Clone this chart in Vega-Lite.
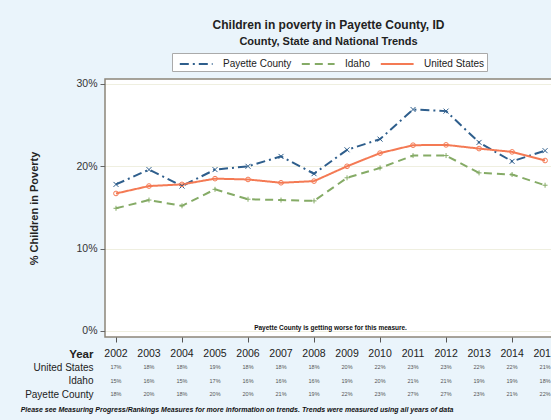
{
  "$schema": "https://vega.github.io/schema/vega-lite/v6.json",
  "background": "#eaf4fb",
  "padding": {"left": 20, "top": 18, "right": 0, "bottom": 8},
  "config": {
    "font": "Liberation Sans",
    "view": {"stroke": "#8c8579", "strokeWidth": 1.5},
    "concat": {"spacing": 0}
  },
  "title": {
    "text": "Please see Measuring Progress/Rankings Measures for more information on trends. Trends were measured using all years of data",
    "orient": "bottom",
    "anchor": "start",
    "fontSize": 7,
    "fontStyle": "italic",
    "fontWeight": "bold",
    "color": "#111",
    "offset": 4,
    "dx": -4
  },
  "datasets": {
    "d": [
      {"year": 2002, "series": "Payette County", "value": 0.178},
      {"year": 2003, "series": "Payette County", "value": 0.196},
      {"year": 2004, "series": "Payette County", "value": 0.176},
      {"year": 2005, "series": "Payette County", "value": 0.196},
      {"year": 2006, "series": "Payette County", "value": 0.200},
      {"year": 2007, "series": "Payette County", "value": 0.212},
      {"year": 2008, "series": "Payette County", "value": 0.191},
      {"year": 2009, "series": "Payette County", "value": 0.220},
      {"year": 2010, "series": "Payette County", "value": 0.233},
      {"year": 2011, "series": "Payette County", "value": 0.269},
      {"year": 2012, "series": "Payette County", "value": 0.267},
      {"year": 2013, "series": "Payette County", "value": 0.229},
      {"year": 2014, "series": "Payette County", "value": 0.206},
      {"year": 2015, "series": "Payette County", "value": 0.219},
      {"year": 2002, "series": "Idaho", "value": 0.149},
      {"year": 2003, "series": "Idaho", "value": 0.159},
      {"year": 2004, "series": "Idaho", "value": 0.152},
      {"year": 2005, "series": "Idaho", "value": 0.172},
      {"year": 2006, "series": "Idaho", "value": 0.160},
      {"year": 2007, "series": "Idaho", "value": 0.159},
      {"year": 2008, "series": "Idaho", "value": 0.158},
      {"year": 2009, "series": "Idaho", "value": 0.186},
      {"year": 2010, "series": "Idaho", "value": 0.198},
      {"year": 2011, "series": "Idaho", "value": 0.213},
      {"year": 2012, "series": "Idaho", "value": 0.213},
      {"year": 2013, "series": "Idaho", "value": 0.192},
      {"year": 2014, "series": "Idaho", "value": 0.190},
      {"year": 2015, "series": "Idaho", "value": 0.177},
      {"year": 2002, "series": "United States", "value": 0.167},
      {"year": 2003, "series": "United States", "value": 0.176},
      {"year": 2004, "series": "United States", "value": 0.178},
      {"year": 2005, "series": "United States", "value": 0.185},
      {"year": 2006, "series": "United States", "value": 0.184},
      {"year": 2007, "series": "United States", "value": 0.180},
      {"year": 2008, "series": "United States", "value": 0.182},
      {"year": 2009, "series": "United States", "value": 0.200},
      {"year": 2010, "series": "United States", "value": 0.216},
      {"year": 2011, "series": "United States", "value": 0.2256},
      {"year": 2012, "series": "United States", "value": 0.226},
      {"year": 2013, "series": "United States", "value": 0.2215},
      {"year": 2014, "series": "United States", "value": 0.2175},
      {"year": 2015, "series": "United States", "value": 0.207}
    ]
  },
  "vconcat": [
    {
      "width": 447,
      "height": 258,
      "view": {"fill": "white"},
      "title": {
        "text": "Children in poverty in Payette County, ID",
        "subtitle": "County, State and National Trends",
        "fontSize": 12,
        "fontWeight": "bold",
        "color": "#222",
        "subtitleFontSize": 11,
        "subtitleFontWeight": "bold",
        "subtitleColor": "#222",
        "subtitlePadding": 4,
        "anchor": "middle",
        "offset": 31
      },
      "data": {"name": "d"},
      "layer": [
        {
          "mark": {"type": "line", "strokeWidth": 2},
          "encoding": {
            "x": {
              "field": "year", "type": "quantitative",
              "scale": {"domain": [2001.667, 2015.21], "nice": false, "zero": false},
              "axis": {"values": [2002, 2003, 2004, 2005, 2006, 2007, 2008, 2009, 2010, 2011, 2012, 2013, 2014, 2015], "labels": false, "ticks": true, "tickSize": 5, "tickColor": "#555", "domain": false, "grid": false, "title": null}
            },
            "y": {
              "field": "value", "type": "quantitative",
              "scale": {"domain": [-0.0073, 0.306], "nice": false, "zero": false},
              "axis": {"values": [0, 0.1, 0.2, 0.3], "format": ".0%", "title": "% Children in Poverty", "titleFontSize": 11, "titleFontWeight": "bold", "titleColor": "#222", "titlePadding": 36, "labelFontSize": 10.5, "labelColor": "#333", "labelPadding": 3, "tickSize": 5, "tickColor": "#666", "domain": false, "grid": true, "gridColor": "#efefe0"}
            },
            "color": {
              "field": "series", "type": "nominal",
              "scale": {"domain": ["Payette County", "Idaho", "United States"], "range": ["#2e5e8c", "#85ab66", "#f47a54"]},
              "legend": {"orient": "none", "legendX": 67, "legendY": -26, "direction": "horizontal", "title": null, "symbolType": "M-0.4,0L3.7,0", "symbolSize": 256, "symbolStrokeWidth": 2, "labelFontSize": 10, "labelColor": "#222", "fillColor": "#ffffff", "strokeColor": "#aaa", "padding": 2, "columnPadding": 4, "labelOffset": 31}
            },
            "strokeDash": {
              "field": "series", "type": "nominal",
              "scale": {"domain": ["Payette County", "Idaho", "United States"], "range": [[9, 4, 2, 4], [8, 5], [1, 0]]},
              "legend": {"orient": "none", "legendX": 67, "legendY": -26, "direction": "horizontal", "title": null, "symbolType": "M-0.4,0L3.7,0", "symbolSize": 256, "symbolStrokeWidth": 2, "labelFontSize": 10, "labelColor": "#222", "fillColor": "#ffffff", "strokeColor": "#aaa", "padding": 2, "columnPadding": 4, "labelOffset": 31}
            }
          }
        },
        {
          "transform": [{"filter": "datum.series === 'Payette County'"}],
          "mark": {"type": "point", "shape": "M-1,-1L1,1M-1,1L1,-1", "filled": false, "stroke": "#2e5e8c", "strokeWidth": 1, "size": 25, "opacity": 1},
          "encoding": {"x": {"field": "year", "type": "quantitative"}, "y": {"field": "value", "type": "quantitative"}}
        },
        {
          "transform": [{"filter": "datum.series === 'Idaho'"}],
          "mark": {"type": "point", "shape": "M-1,0L1,0M0,-1L0,1", "filled": false, "stroke": "#85ab66", "strokeWidth": 1, "size": 25, "opacity": 1},
          "encoding": {"x": {"field": "year", "type": "quantitative"}, "y": {"field": "value", "type": "quantitative"}}
        },
        {
          "transform": [{"filter": "datum.series === 'United States'"}],
          "mark": {"type": "point", "shape": "circle", "filled": false, "stroke": "#f47a54", "strokeWidth": 1, "size": 22, "opacity": 1},
          "encoding": {"x": {"field": "year", "type": "quantitative"}, "y": {"field": "value", "type": "quantitative"}}
        },
        {
          "data": {"values": [{"note": "Payette County is getting worse for this measure."}]},
          "mark": {"type": "text", "fontSize": 6.5, "fontWeight": "bold", "color": "#111"},
          "encoding": {
            "x": {"datum": 2008.5, "type": "quantitative"},
            "y": {"datum": 0.0036, "type": "quantitative"},
            "text": {"field": "note"}
          }
        }
      ]
    },
    {
      "width": 447,
      "height": 58,
      "view": {"stroke": null},
      "data": {"name": "d"},
      "layer": [
        {
          "mark": {"type": "text", "fontSize": 5.5, "color": "#555"},
          "encoding": {
            "x": {"field": "year", "type": "quantitative", "scale": {"domain": [2001.667, 2015.21], "nice": false, "zero": false}, "axis": null},
            "y": {
              "field": "series", "type": "nominal",
              "scale": {"type": "point", "domain": ["Year", "United States", "Idaho", "Payette County"], "padding": 0.675, "align": 0.556},
              "axis": {"title": null, "domain": false, "ticks": false, "labelPadding": 12, "labelColor": "#222",
                "labelFontSize": {"condition": {"test": "datum.value === 'Year'", "value": 11.5}, "value": 10},
                "labelFontWeight": {"condition": {"test": "datum.value === 'Year'", "value": "bold"}, "value": "normal"}}
            },
            "text": {"field": "value", "type": "quantitative", "format": ".0%"}
          }
        },
        {
          "transform": [{"filter": "datum.series === 'Payette County'"}],
          "mark": {"type": "text", "fontSize": 10.5, "color": "#222"},
          "encoding": {
            "x": {"field": "year", "type": "quantitative"},
            "y": {"datum": "Year", "type": "nominal"},
            "text": {"field": "year", "type": "nominal"}
          }
        }
      ]
    }
  ]
}
